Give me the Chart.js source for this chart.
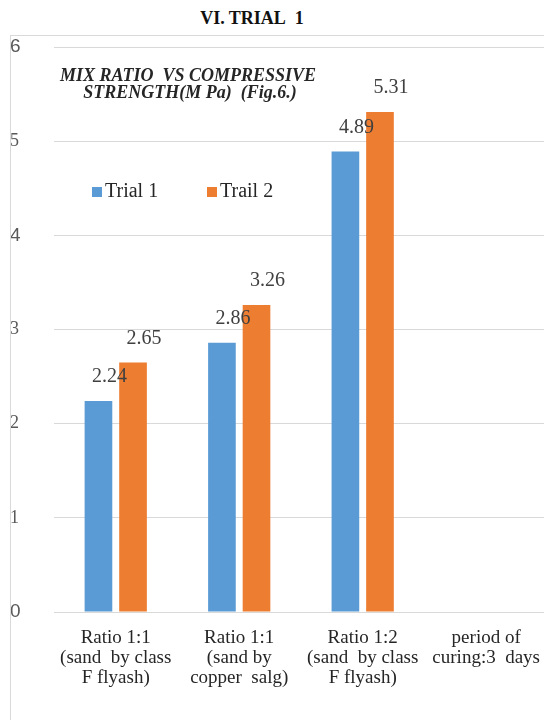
<!DOCTYPE html>
<html>
<head>
<meta charset="utf-8">
<script src="https://cdn.jsdelivr.net/npm/chart.js@4.4.1/dist/chart.umd.min.js"></script>
<style>
  body { margin: 0; width: 544px; height: 720px; overflow: hidden; background: #fff; position: relative; }
  #title { position: absolute; top: 8px; left: 0; width: 504px; text-align: center;
           font: bold 18px "Liberation Serif", serif; color: #111; }
  #frame { position: absolute; top: 35px; left: 10px; width: 540px; height: 690px;
           border-left: 1px solid #d9d9d9; border-top: 1px solid #d9d9d9; overflow: hidden; }
  #chart { position: absolute; top: -1px; left: -1px; }
</style>
</head>
<body>
<div id="title">VI. TRIAL&nbsp; 1</div>
<div id="frame"><canvas id="chart" width="538" height="685"></canvas></div>
<script>
const categories = [
  ["Ratio 1:1", "(sand  by class", "F flyash)"],
  ["Ratio 1:1", "(sand by", "copper  salg)"],
  ["Ratio 1:2", "(sand  by class", "F flyash)"],
  ["period of", "curing:3  days"]
];
const trial1 = [2.24, 2.86, 4.89, null];
const trial2 = [2.65, 3.26, 5.31, null];
const seriesNames = ["Trial 1", "Trail 2"];
const yTicks = [0, 1, 2, 3, 4, 5, 6];
const innerTitle = ["MIX RATIO  VS COMPRESSIVE", "STRENGTH(M Pa)  (Fig.6.)"];

const serif = "'Liberation Serif', serif";
const blue = "#5b9bd5";
const orange = "#ed7d31";

// value labels above each bar
const valueLabels = {
  id: "valueLabels",
  afterDatasetsDraw(chart) {
    const ctx = chart.ctx;
    ctx.save();
    ctx.font = "20px " + serif;
    ctx.fillStyle = "#404040";
    ctx.textAlign = "center";
    ctx.textBaseline = "middle";
    chart.data.datasets.forEach((ds, i) => {
      chart.getDatasetMeta(i).data.forEach((bar, j) => {
        const v = ds.data[j];
        if (v == null) return;
        ctx.fillText(v.toFixed(2), bar.x + 11, bar.y - 24);
      });
    });
    ctx.restore();
  }
};

// title and legend drawn inside the plot
const overlay = {
  id: "overlay",
  afterDraw(chart) {
    const ctx = chart.ctx;
    const left = chart.chartArea.left;
    ctx.save();
    ctx.fillStyle = "#262626";
    ctx.textAlign = "center";
    ctx.textBaseline = "middle";
    ctx.font = "italic bold 18px " + serif;
    ctx.fillText(innerTitle[0], left + 134, 41);
    ctx.fillText(innerTitle[1], left + 136, 58);

    ctx.font = "20px " + serif;
    ctx.textAlign = "left";
    const xs = [left + 38, left + 153];
    chart.data.datasets.forEach((ds, i) => {
      ctx.fillStyle = ds.backgroundColor;
      ctx.fillRect(xs[i], 152, 10, 10);
      ctx.fillStyle = "#262626";
      ctx.fillText(ds.label, xs[i] + 13, 157);
    });
    ctx.restore();
  }
};

new Chart(document.getElementById("chart"), {
  type: "bar",
  data: {
    labels: categories,
    datasets: [
      { label: seriesNames[0], data: trial1, backgroundColor: blue },
      { label: seriesNames[1], data: trial2, backgroundColor: orange }
    ]
  },
  options: {
    responsive: false,
    animation: false,
    categoryPercentage: 0.56,
    barPercentage: 0.8,
    layout: { padding: { top: 12, right: 0, left: 0, bottom: 0 } },
    plugins: {
      legend: { display: false },
      tooltip: { enabled: false }
    },
    scales: {
      x: {
        grid: { display: false },
        border: { display: false },
        ticks: {
          color: "#262626",
          padding: 8,
          font: { family: serif, size: 19, lineHeight: 1.05 }
        },
        afterFit(s) { s.height = 108; }
      },
      y: {
        min: yTicks[0],
        max: yTicks[yTicks.length - 1],
        afterBuildTicks(s) { s.ticks = yTicks.map(v => ({ value: v })); },
        grid: { color: "#d9d9d9", drawTicks: false },
        border: { display: false },
        ticks: {
          color: "#595959",
          crossAlign: "far",
          padding: 0,
          font: ctx => (ctx.tick && [0, 4, 6].includes(ctx.tick.value))
            ? { family: "'Liberation Sans', sans-serif", size: 19 }
            : { family: serif, size: 18 }
        },
        afterFit(s) { s.width = 44; }
      }
    }
  },
  plugins: [valueLabels, overlay]
});
</script>
</body>
</html>
